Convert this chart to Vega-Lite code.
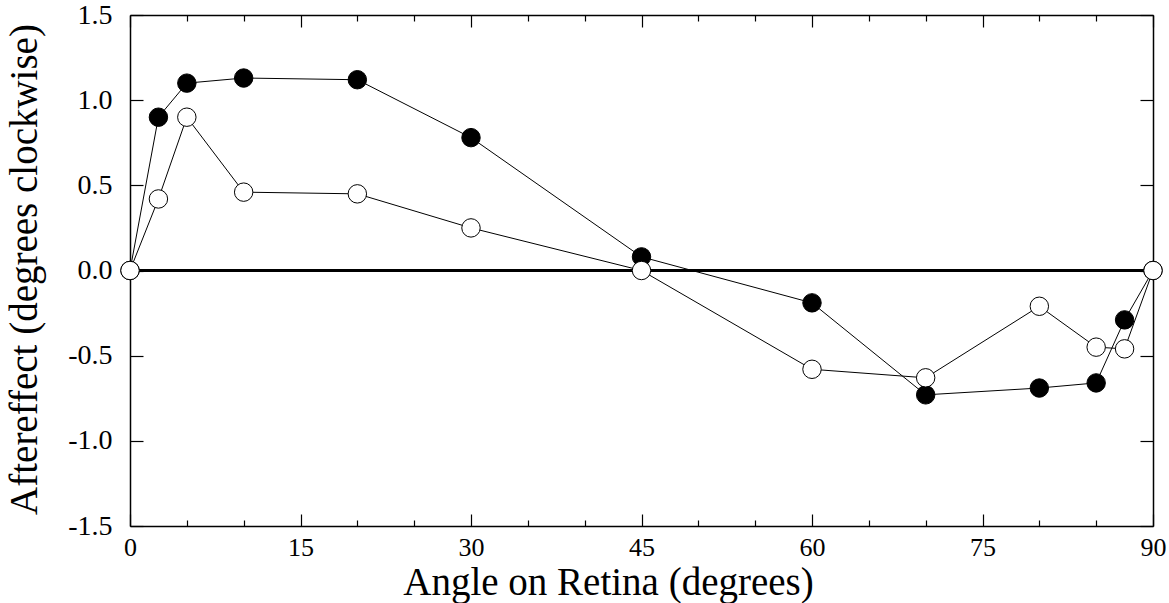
{
  "$schema": "https://vega.github.io/schema/vega-lite/v6.json",
  "autosize": "none",
  "width": 1023,
  "height": 511,
  "padding": {"left": 130, "top": 15, "right": 16, "bottom": 77},
  "background": "white",
  "config": {
    "view": {"stroke": null},
    "axis": {"grid": false, "domainColor": "black", "tickColor": "black", "labelColor": "black", "titleColor": "black", "labelFont": "Liberation Serif", "titleFont": "Liberation Serif", "labelFontSize": 28, "titleFontWeight": "normal", "domainWidth": 1.5, "tickWidth": 1.2}
  },
  "data": {
    "values": [
      {"angle": 0, "effect": 0, "series": "filled"},
      {"angle": 2.5, "effect": 0.9, "series": "filled"},
      {"angle": 5, "effect": 1.1, "series": "filled"},
      {"angle": 10, "effect": 1.13, "series": "filled"},
      {"angle": 20, "effect": 1.12, "series": "filled"},
      {"angle": 30, "effect": 0.78, "series": "filled"},
      {"angle": 45, "effect": 0.08, "series": "filled"},
      {"angle": 60, "effect": -0.19, "series": "filled"},
      {"angle": 70, "effect": -0.73, "series": "filled"},
      {"angle": 80, "effect": -0.69, "series": "filled"},
      {"angle": 85, "effect": -0.66, "series": "filled"},
      {"angle": 87.5, "effect": -0.29, "series": "filled"},
      {"angle": 90, "effect": 0, "series": "filled"},
      {"angle": 0, "effect": 0, "series": "open"},
      {"angle": 2.5, "effect": 0.42, "series": "open"},
      {"angle": 5, "effect": 0.9, "series": "open"},
      {"angle": 10, "effect": 0.46, "series": "open"},
      {"angle": 20, "effect": 0.45, "series": "open"},
      {"angle": 30, "effect": 0.25, "series": "open"},
      {"angle": 45, "effect": 0, "series": "open"},
      {"angle": 60, "effect": -0.58, "series": "open"},
      {"angle": 70, "effect": -0.63, "series": "open"},
      {"angle": 80, "effect": -0.21, "series": "open"},
      {"angle": 85, "effect": -0.45, "series": "open"},
      {"angle": 87.5, "effect": -0.46, "series": "open"},
      {"angle": 90, "effect": 0, "series": "open"}
    ]
  },
  "resolve": {"axis": {"x": "independent", "y": "independent"}},
  "layer": [
    {
      "mark": {"type": "rule", "color": "black", "strokeWidth": 1.4},
      "encoding": {
        "x": {"datum": 0, "type": "quantitative", "scale": {"domain": [0, 90], "nice": false, "zero": false}, "axis": null},
        "x2": {"datum": 90},
        "y": {"datum": 0, "type": "quantitative", "scale": {"domain": [-1.5, 1.5], "nice": false}, "axis": null}
      }
    },
    {
      "transform": [{"filter": "datum.series === 'filled'"}],
      "mark": {"type": "line", "color": "black", "strokeWidth": 1},
      "encoding": {
        "x": {"field": "angle", "type": "quantitative", "scale": {"domain": [0, 90], "nice": false, "zero": false},
          "axis": {"orient": "bottom", "values": [0, 15, 30, 45, 60, 75, 90], "tickSize": -12, "labelPadding": 20, "labelFont": "Liberation Serif", "labelFontSize": 26, "labelBaseline": "top", "labelFlush": false, "labelOverlap": false, "title": "Angle on Retina (degrees)", "titleFont": "Liberation Serif", "titleFontSize": 39, "titleX": 478, "titleY": 68, "titleAlign": "center", "titleBaseline": "alphabetic"}},
        "y": {"field": "effect", "type": "quantitative", "scale": {"domain": [-1.5, 1.5], "nice": false},
          "axis": {"orient": "left", "values": [-1.5, -1, -0.5, 0, 0.5, 1, 1.5], "labelExpr": "datum.value < 0 ? '-' + format(-datum.value, '.1f') : format(datum.value, '.1f')", "tickSize": -13, "labelPadding": 31, "labelFont": "Liberation Serif", "labelFontSize": 28, "labelFlush": false, "labelOverlap": false, "title": "Aftereffect (degrees clockwise)", "titleFont": "Liberation Serif", "titleFontSize": 39, "titleX": -94, "titleY": 254, "titleAngle": -90, "titleAlign": "center", "titleBaseline": "alphabetic"}}
      }
    },
    {
      "transform": [{"filter": "datum.series === 'open'"}],
      "mark": {"type": "line", "color": "black", "strokeWidth": 1},
      "encoding": {
        "x": {"field": "angle", "type": "quantitative", "scale": {"domain": [0, 90], "nice": false, "zero": false},
          "axis": {"orient": "bottom", "values": [5, 10, 20, 25, 35, 40, 50, 55, 65, 70, 80, 85], "tickSize": -6, "labels": false, "title": null, "domain": false}},
        "y": {"field": "effect", "type": "quantitative", "scale": {"domain": [-1.5, 1.5], "nice": false},
          "axis": {"orient": "right", "values": [-1.5, -1, -0.5, 0, 0.5, 1, 1.5], "tickSize": -13, "labels": false, "title": null}}
      }
    },
    {
      "transform": [{"filter": "datum.series === 'filled'"}],
      "mark": {"type": "point", "shape": "circle", "filled": true, "fill": "black", "stroke": "black", "strokeWidth": 1, "size": 340, "opacity": 1},
      "encoding": {
        "x": {"field": "angle", "type": "quantitative", "scale": {"domain": [0, 90], "nice": false, "zero": false},
          "axis": {"orient": "top", "values": [0, 15, 30, 45, 60, 75, 90], "tickSize": -12, "labels": false, "title": null}},
        "y": {"field": "effect", "type": "quantitative", "scale": {"domain": [-1.5, 1.5], "nice": false}, "axis": null}
      }
    },
    {
      "transform": [{"filter": "datum.series === 'open'"}],
      "mark": {"type": "point", "shape": "circle", "filled": true, "fill": "white", "stroke": "black", "strokeWidth": 1, "size": 340, "opacity": 1},
      "encoding": {
        "x": {"field": "angle", "type": "quantitative", "scale": {"domain": [0, 90], "nice": false, "zero": false},
          "axis": {"orient": "top", "values": [5, 10, 20, 25, 35, 40, 50, 55, 65, 70, 80, 85], "tickSize": -6, "labels": false, "title": null, "domain": false}},
        "y": {"field": "effect", "type": "quantitative", "scale": {"domain": [-1.5, 1.5], "nice": false}, "axis": null}
      }
    }
  ]
}
